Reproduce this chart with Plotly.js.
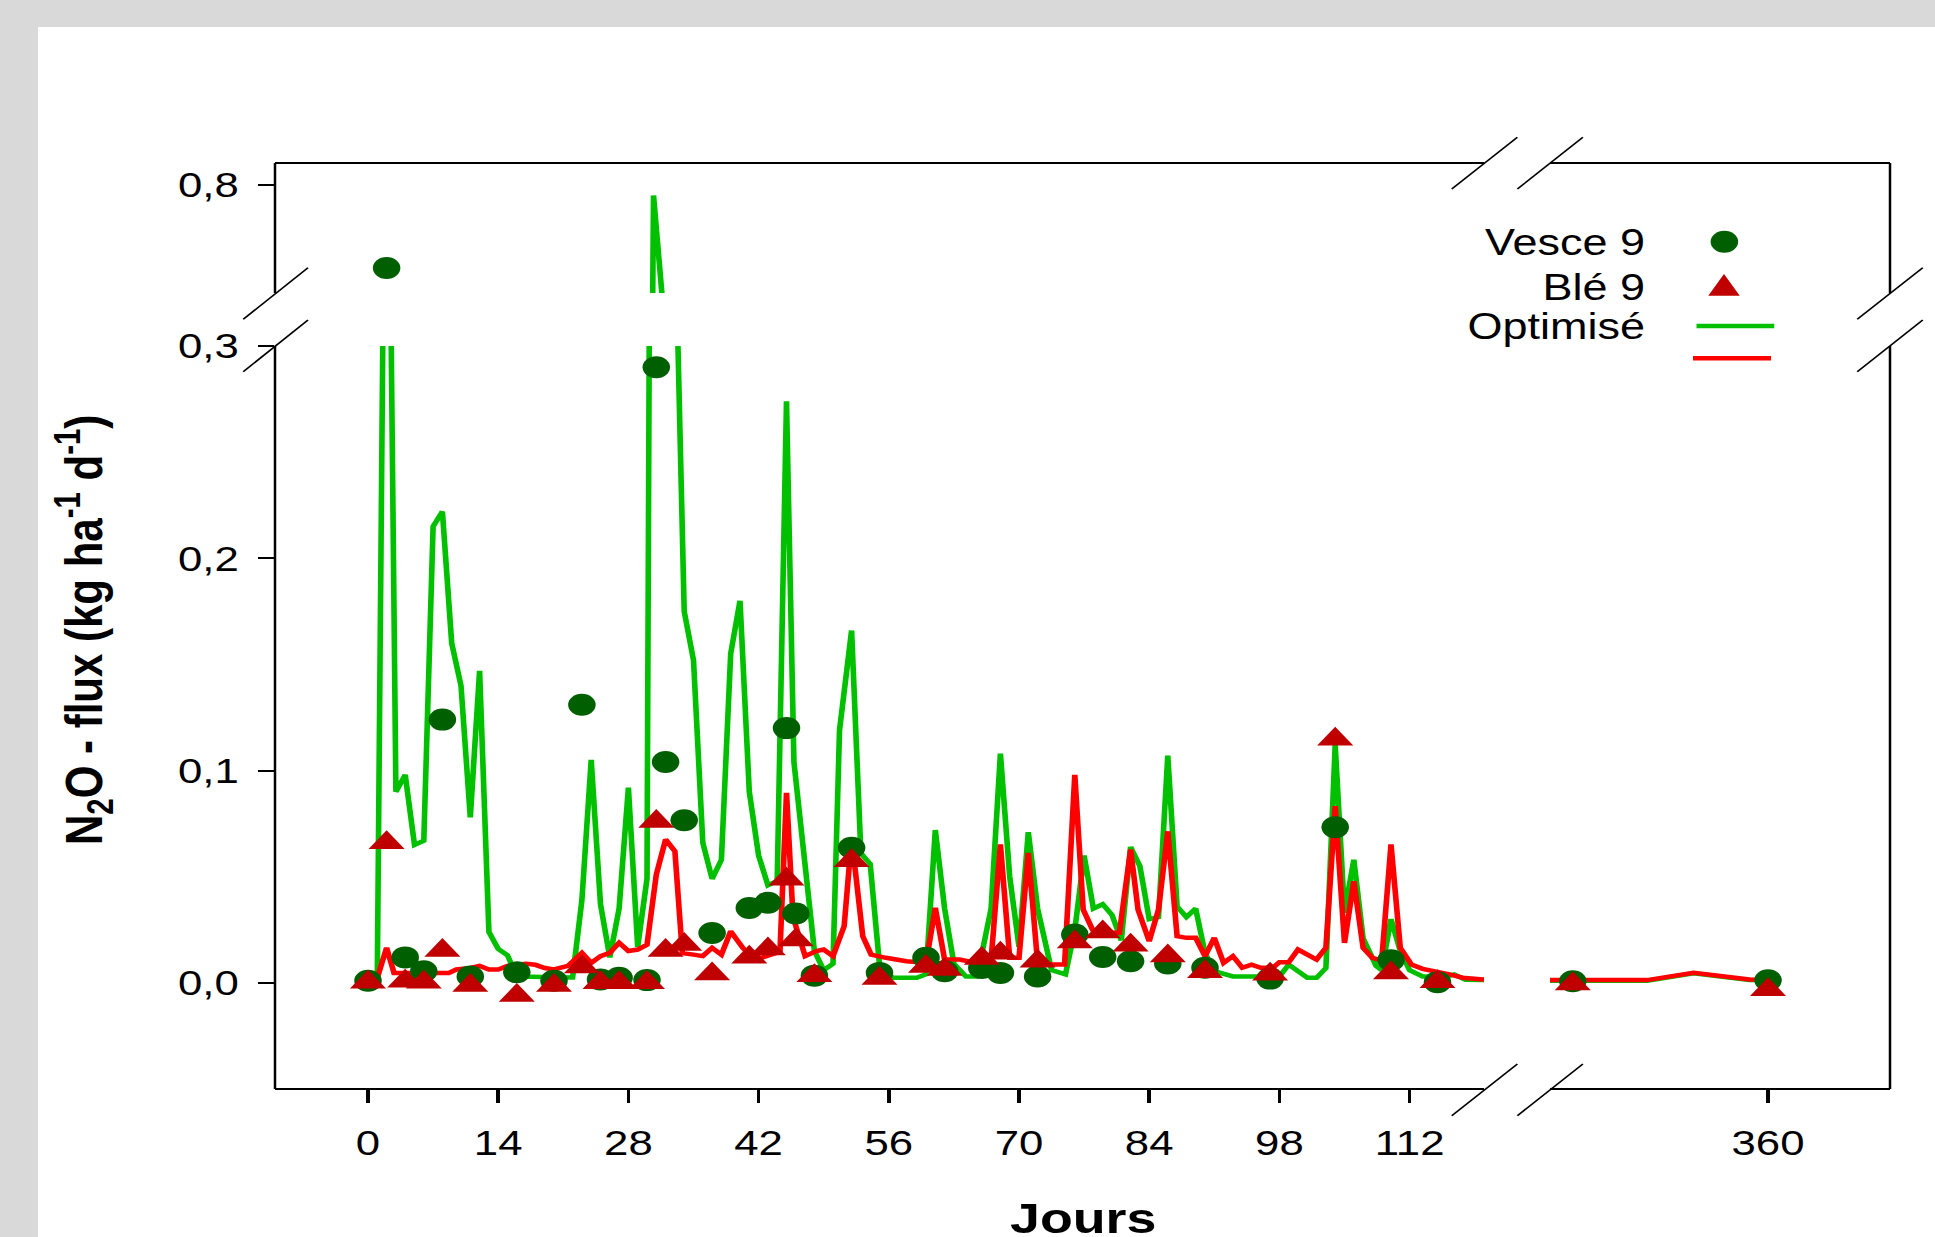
<!DOCTYPE html>
<html>
<head>
<meta charset="utf-8">
<script src="https://cdn.plot.ly/plotly-3.0.1.min.js"></script>
<style>
html, body { margin: 0; padding: 0; overflow: hidden; background: #d9d9d9; }
#chart { width: 1548px; height: 1237px; transform: scaleX(1.25); transform-origin: 0 0; }
</style>
</head>
<body>
<div id="chart"></div>
<script>
// ---------------- DATA ----------------
// Measured days (Jours) for the observations
const obsDays = [0,2,4,6,8,11,16,20,23,25,27,30,31,32,34,37,41,43,45,46,48,52,55,60,62,66,68,72,76,79,82,86,90,97,104,110,115,339,360];
// Vesce 9 observed N2O flux (kg ha-1 d-1)
const vesce9 = [0.001,0.723,0.012,0.0055,0.124,0.003,0.005,0.001,0.131,0.0016,0.0024,0.0013,0.29,0.104,0.0766,0.0235,0.0353,0.0377,0.120,0.0327,0.0034,0.0636,0.0047,0.0118,0.0055,0.007,0.0047,0.003,0.0228,0.0122,0.0102,0.0091,0.0071,0.002,0.0733,0.0107,0.0003,0.0008,0.0012];
// Ble 9 observed N2O flux
const ble9 = [0.0003,0.066,0.0008,0.0003,0.0152,-0.0012,-0.006,-0.0012,0.0075,0.0001,0.0,0.0,0.076,0.0152,0.0181,0.0042,0.0121,0.0159,0.0488,0.0202,0.0033,0.0575,0.002,0.0077,0.0063,0.0115,0.014,0.0102,0.0193,0.0239,0.0177,0.0127,0.0052,0.004,0.1148,0.0046,0.0005,-0.0005,-0.0032];

// Optimised simulation, Vesce (green line)
const optVesceDays = [0,1,2,3,4,5,6,7,8,9,10,11,12,13,14,15,16,22,23,24,25,26,27,28,29,30,30.7,34,35,36,37,38,39,40,41,42,43,44,45,45.8,48,49,50,50.7,52,53,54,55,56.4,59,60,61,62,63,64.3,65.5,67,68,69,70,71,72,73.5,75,76,77,78,79,80,81,82,83,84,85,86,87,88,89,90,91,93,98,99,101,102,103,104,105,106,107,108.4,109,110,111,112,113.4,116,116.8,118,119.9,347,352,358,360];
const optVesce = [0.001,0.003,0.51,0.090,0.098,0.065,0.067,0.215,0.222,0.160,0.140,0.078,0.147,0.024,0.016,0.013,0.003,0.0025,0.039,0.105,0.037,0.012,0.035,0.092,0.017,0.049,0.79,0.175,0.152,0.066,0.049,0.058,0.155,0.180,0.090,0.060,0.046,0.048,0.274,0.104,0.015,0.006,0.009,0.119,0.166,0.061,0.056,0.0086,0.0024,0.0024,0.004,0.072,0.035,0.009,0.003,0.003,0.035,0.108,0.050,0.017,0.071,0.035,0.006,0.004,0.025,0.060,0.035,0.037,0.032,0.020,0.064,0.055,0.030,0.031,0.107,0.036,0.031,0.035,0.014,0.0055,0.003,0.003,0.0086,0.0024,0.0024,0.007,0.112,0.033,0.058,0.021,0.008,0.006,0.030,0.015,0.006,0.003,0.003,0.004,0.0015,0.0013,0.001,0.0045,0.0013,0.0012];

// Optimised simulation, Ble (red line)
const optBleDays = [0,1,2,2.8,8.7,9.5,11,12,13,14,15,17,18,19,20,21.5,23,24,25,26,27,28,29,30,31,32,33,33.8,35,36,37,38,39,40.3,41.2,42.3,43.9,44.3,45,45.7,47,48.2,49,50,51.2,52,53.2,54.1,55.7,57.9,60,61,62,63.6,65.4,67,68,69,70,71,72,73.6,74.9,76,76.9,77.9,79.4,80.8,82,82.8,84,85,86,87,88,89,90,91,92,93,94,95,96,97.3,98,99,100,101,102,103,104,105,106,107,108,109,110,111,112.2,113.4,114.9,116.3,117.7,119.9,347,352,358,360];
const optBle = [0.001,0.0024,0.0165,0.0047,0.0047,0.0063,0.007,0.008,0.0063,0.0063,0.008,0.009,0.0085,0.007,0.0063,0.008,0.0141,0.0094,0.0126,0.0141,0.0189,0.015,0.0157,0.018,0.051,0.0675,0.062,0.014,0.0133,0.0126,0.0165,0.0133,0.0243,0.0165,0.0125,0.0118,0.0141,0.015,0.0895,0.031,0.0126,0.015,0.0157,0.0126,0.0267,0.0683,0.022,0.0133,0.0118,0.0102,0.0094,0.0353,0.011,0.011,0.0094,0.011,0.0652,0.0118,0.0118,0.0612,0.0094,0.0086,0.0086,0.098,0.0345,0.0251,0.0236,0.0236,0.0628,0.0345,0.0196,0.0345,0.0714,0.022,0.0212,0.0212,0.0126,0.0212,0.0094,0.0126,0.0071,0.0086,0.0071,0.0071,0.0097,0.0097,0.0157,0.0133,0.011,0.0165,0.0832,0.0188,0.0479,0.0165,0.0118,0.0105,0.0652,0.0165,0.0086,0.0066,0.0055,0.004,0.0024,0.0016,0.0013,0.0047,0.0016,0.0015];

// Tick labels
const xTickVals = [0,14,28,42,56,70,84,98,112];
const xTickText = ['0','14','28','42','56','70','84','98','112'];
const x2TickVals = [360];
const x2TickText = ['360'];
const yTickVals = [0,0.1,0.2,0.3];
const yTickText = ['0,0','0,1','0,2','0,3'];
const y2TickVals = [0.8];
const y2TickText = ['0,8'];

const legendNames = ['Vesce 9','Blé 9','Optimisé'];
const yTitle = '<b>N<sub>2</sub>O - flux (kg ha<sup>-1</sup> d<sup>-1</sup>)</b>';
const xTitle = '<b>Jours</b>';

// ---------------- LAYOUT ----------------
const W = 1548, H = 1237;
const PX = v => v / W;
const PY = v => 1 - v / H;
const FONT = 'Liberation Sans, Arial, Helvetica, sans-serif';

const C_DOT = '#005f00', C_TRI = '#c00000', C_GLINE = '#00c000', C_RLINE = '#ff0000';

const frameL = 220, frameR = 1512, frameT = 163, frameB = 1089;
const xBreakL = 1187.2, xBreakR = 1240;
const yBreakT = 293, yBreakB = 346;

const traces = [];
const panels = [['x','y'],['x2','y'],['x','y2'],['x2','y2']];
panels.forEach(([xa, ya]) => {
  traces.push({x: optVesceDays, y: optVesce, xaxis: xa, yaxis: ya, type: 'scatter', mode: 'lines',
    line: {color: C_GLINE, width: 4.5}, name: legendNames[2], showlegend: false, hoverinfo: 'skip'});
  traces.push({x: optBleDays, y: optBle, xaxis: xa, yaxis: ya, type: 'scatter', mode: 'lines',
    line: {color: C_RLINE, width: 4.5}, name: legendNames[2], showlegend: false, hoverinfo: 'skip'});
  traces.push({x: obsDays, y: vesce9, xaxis: xa, yaxis: ya, type: 'scatter', mode: 'markers',
    marker: {symbol: 'circle', size: 22, color: C_DOT, line: {width: 0}}, name: legendNames[0], showlegend: false});
  traces.push({x: obsDays, y: ble9, xaxis: xa, yaxis: ya, type: 'scatter', mode: 'markers',
    marker: {symbol: 'triangle-up', size: 25, color: C_TRI, line: {width: 0}}, name: legendNames[1], showlegend: false});
});

const axCommon = {
  showline: false, showgrid: false, zeroline: false, ticks: 'outside', ticklen: 13,
  tickcolor: '#000', tickfont: {family: FONT, size: 35, color: '#000'}, automargin: false, fixedrange: true
};

const shapes = [];
// white page panel
shapes.push({type: 'rect', xref: 'paper', yref: 'paper', x0: PX(30.4), x1: 1.01, y0: -0.01, y1: PY(27),
  fillcolor: '#ffffff', line: {width: 0}, layer: 'below'});
function seg(x0, y0, x1, y1, w) {
  shapes.push({type: 'line', xref: 'paper', yref: 'paper', x0: PX(x0), y0: PY(y0), x1: PX(x1), y1: PY(y1),
    line: {color: '#000', width: w}, layer: 'above'});
}
// frame
seg(frameL, frameT, frameL, yBreakT, 2);
seg(frameL, yBreakB, frameL, frameB, 2);
seg(frameR, frameT, frameR, yBreakT, 2);
seg(frameR, yBreakB, frameR, frameB, 2);
seg(frameL, frameT, xBreakL, frameT, 2);
seg(xBreakR, frameT, frameR, frameT, 2);
seg(frameL, frameB, xBreakL, frameB, 2);
seg(xBreakR, frameB, frameR, frameB, 2);
// break marks
seg(194.6, 319.3, 246.4, 267.7, 1.5);
seg(194.6, 371.7, 246.4, 320, 1.5);
seg(1485.8, 319.3, 1538.2, 267.7, 1.5);
seg(1485.8, 371.7, 1538.2, 320, 1.5);
seg(1161.4, 189, 1213.9, 137.3, 1.5);
seg(1213.9, 189, 1266.3, 137.3, 1.5);
seg(1161.4, 1115.7, 1213.9, 1064, 1.5);
seg(1213.9, 1115.7, 1266.3, 1064, 1.5);

// legend keys
shapes.push({type: 'circle', xref: 'paper', yref: 'paper', x0: PX(1379.5 - 11), x1: PX(1379.5 + 11),
  y0: PY(241.7 + 11), y1: PY(241.7 - 11), fillcolor: C_DOT, line: {width: 0}});
shapes.push({type: 'path', xref: 'paper', yref: 'paper',
  path: `M ${PX(1379.2 - 12.6)} ${PY(295.7)} L ${PX(1379.2 + 12.6)} ${PY(295.7)} L ${PX(1379.2)} ${PY(274)} Z`,
  fillcolor: C_TRI, line: {width: 0}});
shapes.push({type: 'line', xref: 'paper', yref: 'paper', x0: PX(1357.2), x1: PX(1419.4), y0: PY(326), y1: PY(326),
  line: {color: C_GLINE, width: 4.5}});
shapes.push({type: 'line', xref: 'paper', yref: 'paper', x0: PX(1354.4), x1: PX(1416.8), y0: PY(358.3), y1: PY(358.3),
  line: {color: C_RLINE, width: 4.5}});

const annotations = [
  {text: legendNames[0], xref: 'paper', yref: 'paper', x: PX(1318.4), y: PY(242), xanchor: 'right', yanchor: 'middle',
   showarrow: false, font: {family: FONT, size: 36, color: '#000'}},
  {text: legendNames[1], xref: 'paper', yref: 'paper', x: PX(1318.4), y: PY(288), xanchor: 'right', yanchor: 'middle',
   showarrow: false, font: {family: FONT, size: 36, color: '#000'}},
  {text: legendNames[2], xref: 'paper', yref: 'paper', x: PX(1318.4), y: PY(326), xanchor: 'right', yanchor: 'middle',
   showarrow: false, font: {family: FONT, size: 36, color: '#000'}},
  {text: yTitle, xref: 'paper', yref: 'paper', x: PX(66), y: PY(630), xanchor: 'center', yanchor: 'middle',
   textangle: -90, showarrow: false, font: {family: FONT, size: 42, color: '#000'}},
  {text: xTitle, xref: 'paper', yref: 'paper', x: PX(866.3), y: PY(1192), xanchor: 'center', yanchor: 'top',
   showarrow: false, font: {family: FONT, size: 43, color: '#000'}}
];

const layout = {
  width: W, height: H, autosize: false,
  margin: {l: 0, r: 0, t: 0, b: 0, pad: 0},
  paper_bgcolor: '#d9d9d9', plot_bgcolor: 'rgba(0,0,0,0)',
  showlegend: false,
  xaxis: Object.assign({}, axCommon, {domain: [PX(frameL), PX(xBreakL)], range: [-10, 120], anchor: 'y',
    tickmode: 'array', tickvals: xTickVals, ticktext: xTickText, tickwidth: 2.8, ticklabelstandoff: 10}),
  xaxis2: Object.assign({}, axCommon, {domain: [PX(xBreakR), PX(frameR)], range: [336.55, 373.12], anchor: 'y',
    tickmode: 'array', tickvals: x2TickVals, ticktext: x2TickText, tickwidth: 2.8, ticklabelstandoff: 10}),
  yaxis: Object.assign({}, axCommon, {domain: [PY(frameB), PY(yBreakB)], range: [-0.05, 0.3], anchor: 'x',
    tickmode: 'array', tickvals: yTickVals, ticktext: yTickText, tickwidth: 2, ticklabelstandoff: 8}),
  yaxis2: Object.assign({}, axCommon, {domain: [PY(yBreakT), PY(frameT)], range: [0.7, 0.82], anchor: 'x',
    tickmode: 'array', tickvals: y2TickVals, ticktext: y2TickText, tickwidth: 2, ticklabelstandoff: 8}),
  shapes: shapes,
  annotations: annotations
};

Plotly.newPlot('chart', traces, layout, {staticPlot: true, displayModeBar: false});
</script>
</body>
</html>
